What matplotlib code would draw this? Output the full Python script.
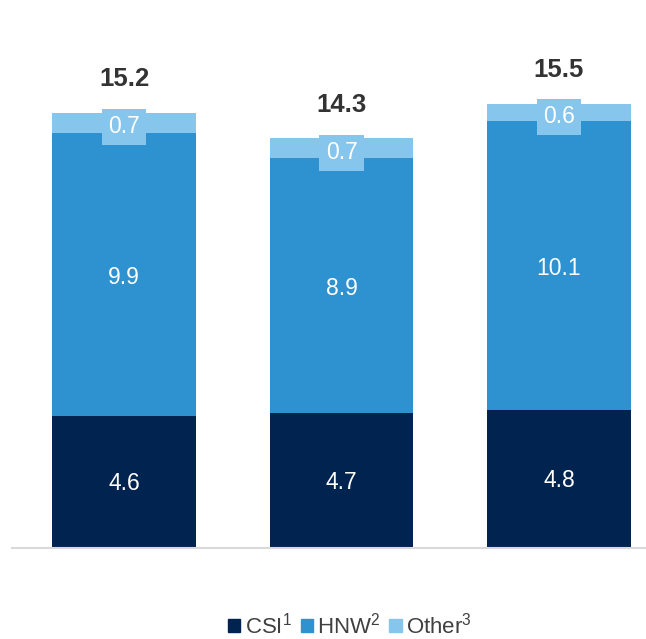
import matplotlib.pyplot as plt
from matplotlib.patches import Patch

plt.rcParams['font.family'] = ['Liberation Sans', 'DejaVu Sans']
plt.rcParams['mathtext.fontset'] = 'custom'
plt.rcParams['mathtext.rm'] = 'Liberation Sans'

groups = ['A', 'B', 'C']
csi = [4.6, 4.7, 4.8]
hnw = [9.9, 8.9, 10.1]
other = [0.7, 0.7, 0.6]
totals = [15.2, 14.3, 15.5]

c_csi = '#00234F'
c_hnw = '#2F92D0'
c_other = '#86C5EC'

fig = plt.figure(figsize=(6.46, 6.39), dpi=100)
ax = fig.add_axes([12 / 646, 91 / 639, 634 / 646, 528 / 639])

x = list(range(len(groups)))
w = 0.662
ax.bar(x, csi, width=w, color=c_csi)
ax.bar(x, hnw, width=w, bottom=csi, color=c_hnw)
bot2 = [a + b for a, b in zip(csi, hnw)]
ax.bar(x, other, width=w, bottom=bot2, color=c_other)

for i in x:
    ax.text(i, csi[i] / 2 - 0.05, f'{csi[i]}', ha='center', va='center', color='white', fontsize=16.5)
    ax.text(i, csi[i] + hnw[i] / 2 - 0.1, f'{hnw[i]}', ha='center', va='center', color='white', fontsize=16.5)
    ax.text(i, bot2[i] + other[i] / 2 - 0.15, f'{other[i]}', ha='center', va='center', color='white',
            fontsize=16.5, bbox=dict(boxstyle='square,pad=0.28', fc=c_other, ec='none'))
    ax.text(i, totals[i] + 0.75, f'{totals[i]}', ha='center', va='bottom', color='#333333',
            fontsize=18.5, fontweight='bold')

ax.set_xlim(-0.515, 2.4)
ax.set_ylim(0, 528 / 28.65)
for s in ['top', 'right', 'left']:
    ax.spines[s].set_visible(False)
ax.spines['bottom'].set_color('#D9D9D9')
ax.spines['bottom'].set_linewidth(1.5)
ax.set_xticks([])
ax.set_yticks([])

handles = [Patch(color=c_csi, label='CSI$^1$'),
           Patch(color=c_hnw, label='HNW$^2$'),
           Patch(color=c_other, label='Other$^3$')]
fig.legend(handles=handles, loc='lower center', bbox_to_anchor=(350 / 646, -0.03), ncol=3,
           frameon=False, fontsize=16, handlelength=0.55, handleheight=0.55, handletextpad=0.2,
           columnspacing=0.4, labelcolor='#404040')

fig.savefig('out.png', dpi=100)
